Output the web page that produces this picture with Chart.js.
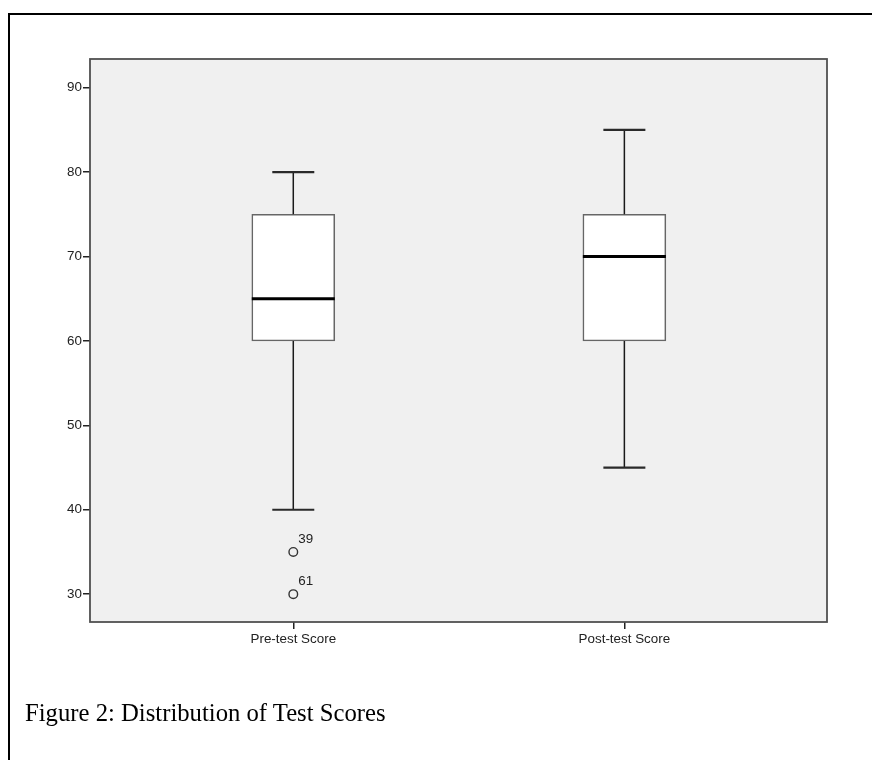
<!DOCTYPE html>
<html lang="en">
<head>
    <meta charset="UTF-8">
    <title>Figure 2: Distribution of Test Scores</title>
    <script src="https://cdn.jsdelivr.net/npm/chart.js"></script>
    <style>
        html, body { margin: 0; padding: 0; background: #fff; overflow: hidden; }
        #page { position: relative; width: 872px; height: 760px; }
        #frame {
            position: absolute; left: 8px; top: 13px; width: 900px; height: 800px;
            border-top: 2px solid #000; border-left: 2px solid #000;
        }
        #caption {
            position: absolute; left: 25px; top: 701px;
            font-family: "Liberation Serif", "Times New Roman", serif;
            font-size: 24.7px; line-height: 24.7px; color: #000; white-space: nowrap;
        }
        #chartBox { position: absolute; left: 0; top: 0; width: 872px; height: 760px; }
    </style>
</head>
<body>
<div id="page">
    <div id="frame"></div>
    <div id="chartBox"><canvas id="boxChart" width="872" height="760"></canvas></div>
    <div id="caption">Figure 2: Distribution of Test Scores</div>
</div>

<script>
    // box plot summary
    const categories = ["Pre-test Score", "Post-test Score"];
    const whiskerLow = [40, 45];
    const q1 = [60, 60];
    const median = [65, 70];
    const q3 = [75, 75];
    const whiskerHigh = [80, 85];

    // outliers (case numbers shown next to them)
    const outlierGroup = [0, 0];
    const outlierValues = [35, 30];
    const outlierCases = ["39", "61"];

    const yTicks = [30, 40, 50, 60, 70, 80, 90];

    const tickFont = { family: "'Liberation Sans', Arial, sans-serif", size: 13.4 };
    const BOX_W = 83;
    const CAP_W = 42;

    // grey plot panel + frame
    const panelPlugin = {
        id: 'panel',
        beforeDraw(chart) {
            const a = chart.chartArea, c = chart.ctx;
            c.save();
            c.fillStyle = '#f0f0f0';
            c.fillRect(a.left, a.top, a.right - a.left, a.bottom - a.top);
            c.restore();
        },
        afterDraw(chart) {
            const a = chart.chartArea, c = chart.ctx;
            c.save();
            c.strokeStyle = '#505050';
            c.lineWidth = 1.8;
            c.strokeRect(a.left, a.top, a.right - a.left, a.bottom - a.top);
            c.restore();
        }
    };

    // whiskers, caps, medians and outlier labels
    const boxPlugin = {
        id: 'boxParts',
        afterDatasetsDraw(chart) {
            const x = chart.scales.x, y = chart.scales.y, c = chart.ctx;
            c.save();
            categories.forEach((cat, i) => {
                const cx = x.getPixelForValue(i + 1);
                c.strokeStyle = '#1a1a1a';
                c.lineWidth = 1.5;
                c.beginPath();
                c.moveTo(cx, y.getPixelForValue(q3[i]));
                c.lineTo(cx, y.getPixelForValue(whiskerHigh[i]));
                c.moveTo(cx, y.getPixelForValue(q1[i]));
                c.lineTo(cx, y.getPixelForValue(whiskerLow[i]));
                c.stroke();

                c.lineWidth = 2.2;
                c.strokeStyle = '#2a2a2a';
                [whiskerHigh[i], whiskerLow[i]].forEach(v => {
                    const py = y.getPixelForValue(v);
                    c.beginPath();
                    c.moveTo(cx - CAP_W / 2, py);
                    c.lineTo(cx + CAP_W / 2, py);
                    c.stroke();
                });

                c.lineWidth = 3;
                c.strokeStyle = '#000';
                const my = y.getPixelForValue(median[i]);
                c.beginPath();
                c.moveTo(cx - BOX_W / 2, my);
                c.lineTo(cx + BOX_W / 2, my);
                c.stroke();
            });

            c.fillStyle = '#222';
            c.font = tickFont.size + 'px ' + tickFont.family;
            c.textAlign = 'left';
            c.textBaseline = 'middle';
            outlierValues.forEach((v, k) => {
                const px = x.getPixelForValue(outlierGroup[k] + 1);
                const py = y.getPixelForValue(v);
                c.fillText(outlierCases[k], px + 5, py - 13);
            });
            c.restore();
        }
    };

    const ctx = document.getElementById('boxChart').getContext('2d');

    new Chart(ctx, {
        type: 'bar',
        data: {
            datasets: [
                {
                    label: 'IQR',
                    data: categories.map((cat, i) => ({ x: i + 1, y: [q1[i], q3[i]] })),
                    backgroundColor: '#ffffff',
                    borderColor: '#666666',
                    borderWidth: 1.6,
                    borderSkipped: false,
                    barThickness: BOX_W
                },
                {
                    type: 'scatter',
                    label: 'Outliers',
                    data: outlierValues.map((v, k) => ({ x: outlierGroup[k] + 1, y: v })),
                    pointStyle: 'circle',
                    pointRadius: 4.3,
                    backgroundColor: 'rgba(0,0,0,0)',
                    borderColor: '#333333',
                    borderWidth: 1.4
                }
            ]
        },
        options: {
            responsive: false,
            animation: false,
            events: [],
            layout: { padding: { left: 0, top: 59, right: 45, bottom: 0 } },
            plugins: { legend: { display: false }, tooltip: { enabled: false } },
            scales: {
                x: {
                    type: 'linear',
                    offset: false,
                    min: 0.386,
                    max: 2.612,
                    afterBuildTicks: s => { s.ticks = categories.map((c, i) => ({ value: i + 1 })); },
                    afterFit: s => { s.height = 138; },
                    ticks: {
                        callback: v => categories[v - 1],
                        font: tickFont,
                        color: '#222',
                        padding: 2,
                        maxRotation: 0
                    },
                    grid: { offset: false, drawOnChartArea: false, tickLength: 7, color: '#222', lineWidth: 1.5 },
                    border: { display: false }
                },
                y: {
                    min: 26.7,
                    max: 93.4,
                    afterBuildTicks: s => { s.ticks = yTicks.map(v => ({ value: v })); },
                    afterFit: s => { s.width = 90; },
                    ticks: { font: tickFont, color: '#222', padding: 1 },
                    grid: { drawOnChartArea: false, tickLength: 7, color: '#222', lineWidth: 1.5 },
                    border: { display: false }
                }
            }
        },
        plugins: [panelPlugin, boxPlugin]
    });
</script>
</body>
</html>
